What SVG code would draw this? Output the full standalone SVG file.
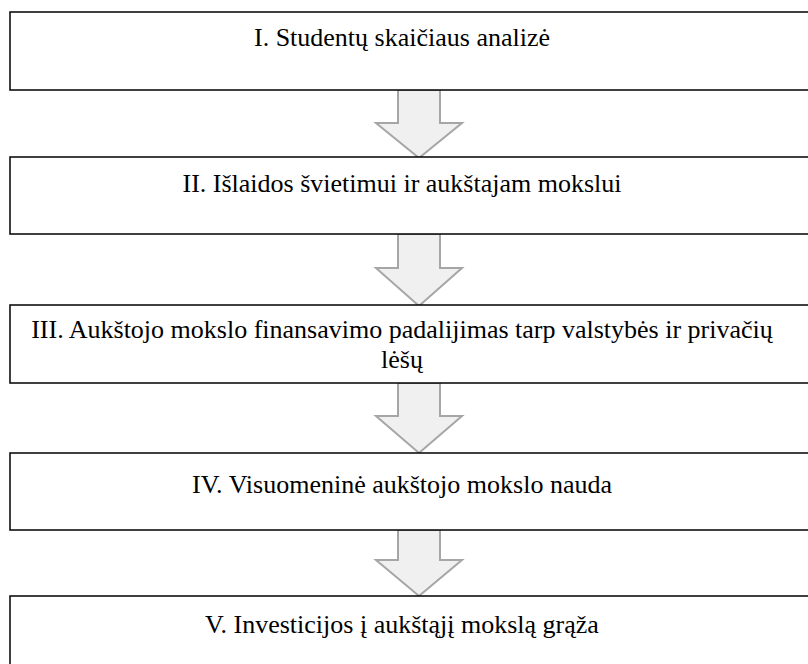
<svg xmlns="http://www.w3.org/2000/svg" width="808" height="664" viewBox="0 0 808 664">
<style>
.box{fill:#fff;stroke:#000;stroke-width:1.5}
.t{font-family:"Liberation Serif","Times New Roman",serif;font-size:26px;fill:#000;text-anchor:middle}
.arr{fill:#f0f0f0;stroke:#a6a6a6;stroke-width:2;stroke-linejoin:miter}
</style>
<rect width="808" height="664" fill="#fff"/>
<g id="connectors">
<path class="arr" d="M398,90 H440 V123 H462 L419,158 L376,123 H398 Z"/>
<path class="arr" d="M398,234 H440 V268 H462 L419,306 L376,268 H398 Z"/>
<path class="arr" d="M398,383 H440 V416 H462 L419,453 L376,416 H398 Z"/>
<path class="arr" d="M398,530 H440 V560 H462 L419,596 L376,560 H398 Z"/>
</g>
<g id="n1"><rect class="box" x="10" y="12" width="810" height="78"/><text class="t" x="402" y="46">I. Studentų skaičiaus analizė</text></g>
<g id="n2"><rect class="box" x="10" y="157" width="810" height="77"/><text class="t" x="402" y="192">II. Išlaidos švietimui ir aukštajam mokslui</text></g>
<g id="n3"><rect class="box" x="10" y="305" width="810" height="78"/><text class="t" x="402" y="338">III. Aukštojo mokslo finansavimo padalijimas tarp valstybės ir privačių</text><text class="t" x="402" y="368">lėšų</text></g>
<g id="n4"><rect class="box" x="10" y="453" width="810" height="77"/><text class="t" x="402" y="493">IV. Visuomeninė aukštojo mokslo nauda</text></g>
<g id="n5"><rect class="box" x="10" y="596" width="810" height="77"/><text class="t" x="402" y="633">V. Investicijos į aukštąjį mokslą grąža</text></g>
</svg>
